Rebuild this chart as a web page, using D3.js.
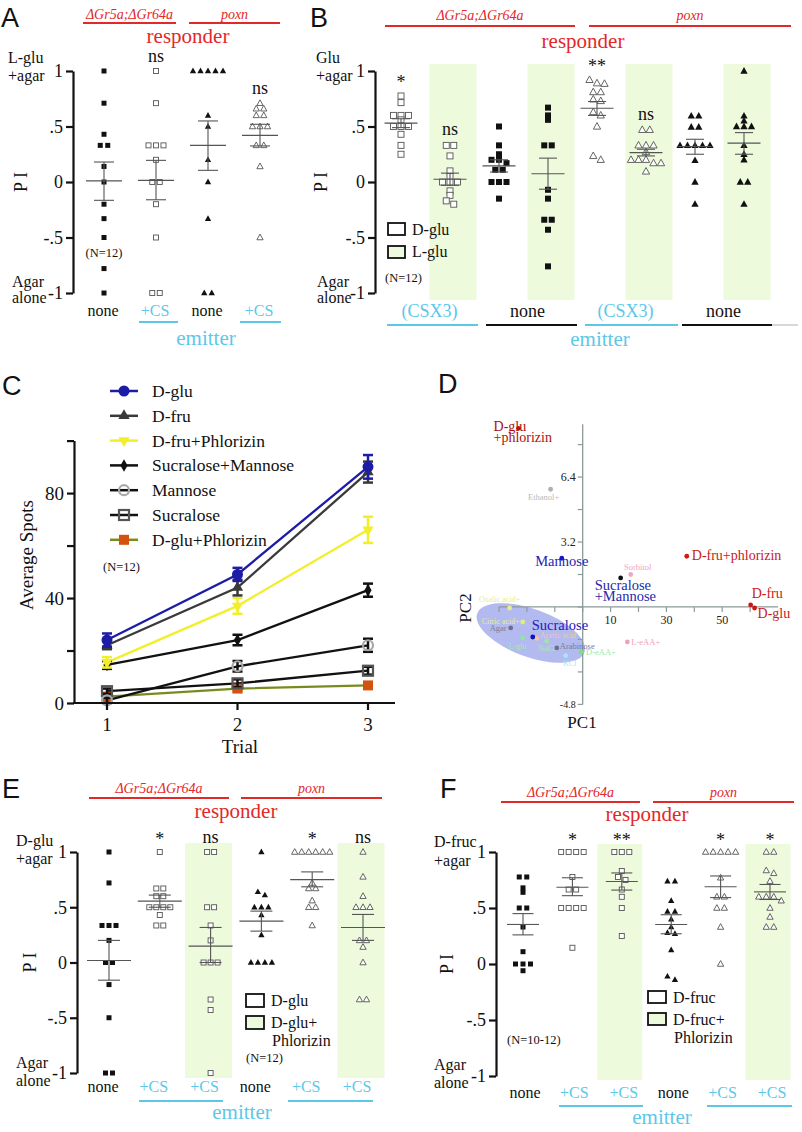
<!DOCTYPE html>
<html>
<head>
<meta charset="utf-8">
<script src="https://cdn.jsdelivr.net/npm/d3@7/dist/d3.min.js"></script>
<style>
html,body{margin:0;padding:0;background:#fff;}
svg{display:block;}
</style>
</head>
<body>
<svg id="fig" width="802" height="1132"></svg>
<script>
// ================= DATA =================
const piTickValues = [1, 0.5, 0, -0.5, -1];
const piTickLabels = ["1", ".5", "0", "-.5", "-1"];
const responderLabel = "responder";
const emitterLabel = "emitter";
const genotypeLabels = ["ΔGr5a;ΔGr64a", "poxn"];
const piAxisLabel = "P I";

// ---- Panel A ----
const aSideTop = ["L-glu", "+agar"];
const aSideBottom = ["Agar", "alone"];
const aCategories = ["none", "+CS", "none", "+CS"];
const aShapes = ["sqF", "sqO", "trF", "trO"];
const aShaded = [false, false, false, false];
const aSig = ["", "ns", "", "ns"];
const aValues = [
  [1.0, 0.71, 0.43, 0.33, 0.33, 0.14, 0, -0.2, -0.33, -0.5, -0.78, -1],
  [1.0, 0.71, 0.33, 0.33, 0.33, 0.2, 0, 0, -0.2, -0.5, -1, -1],
  [1, 1, 1, 1, 1, 0.6, 0.5, 0.2, 0, -0.33, -1, -1],
  [0.71, 0.66, 0.66, 0.6, 0.6, 0.5, 0.5, 0.5, 0.33, 0.33, 0.14, -0.5]
];
const aMean = [0.01, 0.015, 0.33, 0.42];
const aSemHi = [0.18, 0.195, 0.55, 0.52];
const aSemLo = [-0.165, -0.16, 0.105, 0.325];
const aN = "(N=12)";

// ---- Panel B ----
const bSideTop = ["Glu", "+agar"];
const bSideBottom = ["Agar", "alone"];
const bGroups = ["(CSX3)", "none", "(CSX3)", "none"];
const bShapes = ["sqO", "sqO", "sqF", "sqF", "trO", "trO", "trF", "trF"];
const bShaded = [false, true, false, true, false, true, false, true];
const bSig = ["*", "ns", "", "", "**", "ns", "", ""];
const bValues = [
  [0.775, 0.715, 0.6, 0.6, 0.6, 0.56, 0.5, 0.5, 0.5, 0.43, 0.33, 0.25],
  [0.33, 0.33, 0.235, 0.1, 0.05, 0, 0, 0, -0.08, -0.12, -0.17, -0.2],
  [0.5, 0.33, 0.25, 0.2, 0.2, 0.17, 0.11, 0.11, 0, 0, 0, -0.15],
  [0.67, 0.6, 0.56, 0.33, 0.33, -0.07, -0.15, -0.34, -0.34, -0.43, -0.76],
  [0.92, 0.89, 0.885, 0.81, 0.81, 0.745, 0.73, 0.63, 0.6, 0.5, 0.235, 0.2],
  [0.47, 0.47, 0.33, 0.33, 0.33, 0.27, 0.2, 0.2, 0.2, 0.17, 0.17, 0.095],
  [0.595, 0.595, 0.495, 0.495, 0.33, 0.33, 0.33, 0.33, 0.33, 0.195, 0, -0.2],
  [1.0, 0.595, 0.55, 0.5, 0.5, 0.5, 0.33, 0.25, 0.2, 0, 0, -0.2]
];
const bMean = [0.53, 0.025, 0.145, 0.075, 0.665, 0.265, 0.32, 0.35];
const bSemHi = [0.57, 0.08, 0.2, 0.215, 0.725, 0.295, 0.385, 0.445];
const bSemLo = [0.49, -0.03, 0.09, -0.065, 0.6, 0.235, 0.25, 0.25];
const bLegend = ["D-glu", "L-glu"];
const bN = "(N=12)";

// ---- Panel C ----
const cTrials = [1, 2, 3];
const cYTicks = [0, 20, 40, 60, 80, 100];
const cYTickLabels = ["0", "", "40", "", "80", ""];
const cSeriesNames = ["D-glu", "D-fru", "D-fru+Phlorizin", "Sucralose+Mannose", "Mannose", "Sucralose", "D-glu+Phlorizin"];
const cDglu = [24, 49, 90];
const cDgluErr = [2.5, 2.5, 4.5];
const cDfru = [22, 44, 88];
const cDfruErr = [1.5, 3, 4];
const cDfruPhl = [15.5, 37, 66];
const cDfruPhlErr = [2, 3, 5];
const cSucMan = [14.5, 24, 43];
const cSucManErr = [1.5, 2, 2.5];
const cMan = [1, 14, 22];
const cManErr = [1, 2, 2.5];
const cSuc = [4.5, 7.5, 12.3];
const cSucErr = [1, 1.5, 1.5];
const cDgluPhl = [2.4, 5.5, 6.7];
const cDgluPhlErr = [1, 1, 1];
const cN = "(N=12)";

// ---- Panel D (PCA) ----
const dNames = ["D-glu\n+phlorizin", "Ethanol+", "Mannose", "Sucralose\n+Mannose", "Sorbitol", "D-fru+phlorizin",
  "D-fru", "D-glu", "L-eAA+", "D-eAA+", "KCl", "Arabinose", "NaCl", "Acetic acid", "Sucralose", "L-glu",
  "Agar", "Oxalic acid+", "Citric acid+"];
const dPC1 = [-23, -11.5, -7.5, 13.6, 17.2, 37.3, 60.2, 61.6, 16, -0.6, -6.1, -9.3, -12.9, -16.5, -17.9, -21.5, -25.8, -26.2, -21.5];
const dPC2 = [8.8, 5.8, 2.4, 1.43, 1.6, 2.5, 0.1, -0.05, -1.72, -2.22, -2.4, -2.02, -1.67, -1.55, -1.48, -1.53, -1.03, -0.05, -0.74];
const dYTicks = [-4.8, -3.2, -1.6, 0, 1.6, 3.2, 4.8, 6.4, 8.0];
const dYTickLabels = ["-4.8", "", "", "", "", "3.2", "", "6.4", ""];
const dXTicks = [-30, -20, -10, 0, 10, 20, 30, 40, 50, 60];
const dXTickLabels = ["", "", "", "", "10", "", "30", "", "50", ""];
const dEllipseCenter = [-18.6, -1.28];

// ---- Panel E ----
const eSideTop = ["D-glu", "+agar"];
const eSideBottom = ["Agar", "alone"];
const eCategories = ["none", "+CS", "+CS", "none", "+CS", "+CS"];
const eShapes = ["sqF", "sqO", "sqO", "trF", "trO", "trO"];
const eShaded = [false, false, true, false, false, true];
const eSig = ["", "*", "ns", "", "*", "ns"];
const eValues = [
  [1, 0.72, 0.335, 0.335, 0.335, 0.2, 0, 0, -0.2, -0.5, -1, -1],
  [1, 0.67, 0.67, 0.6, 0.6, 0.5, 0.5, 0.5, 0.5, 0.43, 0.335, 0.335],
  [1, 1, 0.5, 0.5, 0.335, 0.2, 0, 0, 0, -0.335, -0.43, -1],
  [1, 0.64, 0.61, 0.5, 0.5, 0.5, 0.43, 0.25, 0, 0, 0, 0],
  [1, 1, 1, 1, 1, 1, 0.72, 0.67, 0.67, 0.56, 0.5, 0.5, 0.335],
  [1, 0.775, 0.6, 0.5, 0.5, 0.5, 0.2, 0.2, 0.14, 0, -0.335, -0.335]
];
const eMean = [0.018, 0.555, 0.148, 0.374, 0.75, 0.317];
const eSemHi = [0.2, 0.61, 0.317, 0.465, 0.82, 0.435];
const eSemLo = [-0.16, 0.5, 0, 0.284, 0.685, 0.2];
const eLegend = ["D-glu", "D-glu+", "Phlorizin"];
const eN = "(N=12)";

// ---- Panel F ----
const fSideTop = ["D-fruc", "+agar"];
const fSideBottom = ["Agar", "alone"];
const fCategories = ["none", "+CS", "+CS", "none", "+CS", "+CS"];
const fShapes = ["sqF", "sqO", "sqO", "trF", "trO", "trO"];
const fShaded = [false, false, true, false, false, true];
const fSig = ["", "*", "**", "", "*", "*"];
const fValues = [
  [0.777, 0.777, 0.68, 0.64, 0.5, 0.5, 0.33, 0.11, 0, 0, 0, -0.06],
  [1, 1, 1, 1, 0.777, 0.665, 0.665, 0.5, 0.5, 0.5, 0.5, 0.145],
  [1, 1, 1, 0.83, 0.777, 0.75, 0.665, 0.6, 0.5, 0.25],
  [0.74, 0.74, 0.565, 0.47, 0.47, 0.4, 0.33, 0.28, 0.27, 0.125, -0.11, -0.14],
  [1, 1, 1, 1, 1, 0.77, 0.6, 0.6, 0.5, 0.5, 0.33, 0],
  [1, 1, 0.835, 0.81, 0.74, 0.6, 0.6, 0.6, 0.565, 0.5, 0.42, 0.33, 0.33]
];
const fMean = [0.353, 0.685, 0.736, 0.353, 0.69, 0.644];
const fSemHi = [0.45, 0.77, 0.813, 0.44, 0.786, 0.71];
const fSemLo = [0.26, 0.61, 0.66, 0.27, 0.593, 0.576];
const fLegend = ["D-fruc", "D-fruc+", "Phlorizin"];
const fN = "(N=10-12)";

// ================= STYLE / HELPERS =================
const svg = d3.select("#fig");
const SERIF = "'Liberation Serif','Times New Roman',serif";
const SANS = "'Liberation Sans',Arial,sans-serif";
const RED = "#e32828";
const CYAN = "#5cc8e8";
const GREEN = "#eefadc";

svg.append("rect").attr("width", 802).attr("height", 1132).attr("fill", "#fff");

function txt(g, x, y, s, o = {}) {
  const t = g.append("text").attr("x", x).attr("y", y)
    .attr("font-family", o.ff || SERIF).attr("font-size", o.fs || 16)
    .attr("fill", o.fill || "#111").attr("text-anchor", o.anchor || "start");
  if (o.italic) t.attr("font-style", "italic");
  if (o.rot) t.attr("transform", `rotate(${o.rot},${x},${y})`);
  const lines = String(s).split("\n");
  if (lines.length === 1) t.text(s);
  else lines.forEach((ln, k) => t.append("tspan").attr("x", x).attr("dy", k === 0 ? 0 : (o.lh || 11)).text(ln));
  return t;
}

function layoutCol(vals, tol) {
  const sorted = vals.map(v => v).sort((a, b) => b - a);
  const clusters = [];
  sorted.forEach(v => {
    const c = clusters[clusters.length - 1];
    if (c && c[0] - v < tol - 1e-9) c.push(v); else clusters.push([v]);
  });
  const out = [];
  clusters.forEach(c => c.forEach((v, k) => out.push({ v, k: k - (c.length - 1) / 2 })));
  return out;
}

function marker(g, shape, cx, cy, s) {
  const filled = shape.endsWith("F");
  let el;
  if (shape.startsWith("sq")) {
    el = g.append("rect").attr("x", cx - s / 2).attr("y", cy - s / 2).attr("width", s).attr("height", s);
  } else {
    const w = s + 1.3, h = w * 0.9;
    el = g.append("path").attr("d", `M${cx},${cy - h * 0.6}L${cx + w / 2},${cy + h * 0.4}L${cx - w / 2},${cy + h * 0.4}Z`);
  }
  if (filled) el.attr("fill", "#111");
  else el.attr("fill", "#fff").attr("stroke", "#555").attr("stroke-width", 0.9);
}

function dotPanel(L, D) {
  const g = svg.append("g");
  const y = d3.scaleLinear().domain([-1, 1]).range([L.yBot, L.yTop]);
  const x = d3.scalePoint().domain(d3.range(D.values.length)).range([L.x0, L.x1]);

  D.shaded.forEach((s, i) => {
    if (!s) return;
    g.append("rect").attr("x", x(i) + L.gDx - L.gW / 2).attr("y", L.gTop)
      .attr("width", L.gW).attr("height", L.gBot - L.gTop).attr("fill", GREEN);
  });

  const ax = g.append("g").attr("transform", `translate(${L.axisX},0)`)
    .call(d3.axisLeft(y).tickValues(piTickValues).tickFormat((d, i) => piTickLabels[i])
      .tickSizeInner(7).tickSizeOuter(0).tickPadding(3));
  ax.attr("font-family", SERIF).attr("font-size", 18);
  ax.select(".domain").attr("stroke-width", 2.2).attr("stroke", "#111");
  ax.selectAll(".tick line").attr("stroke-width", 2.2).attr("stroke", "#111");
  ax.selectAll(".tick text").attr("fill", "#111");

  D.values.forEach((vals, i) => {
    const cx = x(i);
    layoutCol(vals, 0.04).forEach(p => marker(g, D.shapes[i], cx + p.k * L.sp, y(p.v), L.ms));
    const eb = g.append("g").attr("stroke", "#555").attr("stroke-width", 1.1);
    eb.append("line").attr("x1", cx).attr("x2", cx).attr("y1", y(D.hi[i])).attr("y2", y(D.lo[i]));
    [D.hi[i], D.lo[i]].forEach(v => eb.append("line").attr("x1", cx - L.capHalf).attr("x2", cx + L.capHalf)
      .attr("y1", y(v)).attr("y2", y(v)));
    eb.append("line").attr("x1", cx - L.meanHalf).attr("x2", cx + L.meanHalf)
      .attr("y1", y(D.mean[i])).attr("y2", y(D.mean[i]));
    if (D.sig[i]) {
      const isStar = D.sig[i].indexOf("*") >= 0;
      txt(g, cx, y(d3.max(vals)) - L.sigGap + (isStar ? 2 : 0), D.sig[i], { fs: 18, anchor: "middle" });
    }
  });

  // header
  L.hdrLines.forEach((ln, k) => {
    g.append("line").attr("x1", ln[0]).attr("x2", ln[1]).attr("y1", L.hdrLineY).attr("y2", L.hdrLineY)
      .attr("stroke", RED).attr("stroke-width", 2);
    txt(g, (ln[0] + ln[1]) / 2, L.hdrLabY, genotypeLabels[k], { fs: 14, anchor: "middle", fill: RED, italic: true });
  });
  txt(g, L.respX, L.respY, responderLabel, { fs: 21, anchor: "middle", fill: RED });

  // side labels
  D.sideTop.forEach((s, k) => txt(g, L.sideX, L.sideTopY[k], s, { fs: 16 }));
  D.sideBot.forEach((s, k) => txt(g, L.sideX2, L.sideBotY[k], s, { fs: 16 }));
  txt(g, L.piX, (L.yTop + L.yBot) / 2, piAxisLabel, { fs: 18, anchor: "middle", rot: -90 });

  // bottom categories
  if (D.categories) {
    D.categories.forEach((c, i) => txt(g, x(i) + L.catDx, L.catY, c,
      { fs: 16, anchor: "middle", fill: c === "none" ? "#111" : CYAN }));
  }
  if (D.groups) {
    D.groups.forEach((c, k) => txt(g, (x(2 * k) + x(2 * k + 1)) / 2 + L.groupDx, L.catY, c,
      { fs: 18, anchor: "middle", fill: c === "none" ? "#111" : CYAN }));
  }
  L.underlines.forEach(u => g.append("line").attr("x1", u[0]).attr("x2", u[1]).attr("y1", L.ulY).attr("y2", L.ulY)
    .attr("stroke", u[2]).attr("stroke-width", 2));
  txt(g, L.emitX, L.emitY, emitterLabel, { fs: 21, anchor: "middle", fill: CYAN });
  txt(g, L.nPos[0], L.nPos[1], D.n, { fs: 12.5, anchor: L.nPos[2] });

  if (D.legend) {
    const lg = L.legend;
    lg.ys.forEach((yy, k) => g.append("rect").attr("x", lg.x).attr("y", yy).attr("width", lg.w).attr("height", lg.h)
      .attr("fill", k === 0 ? "#fff" : GREEN).attr("stroke", "#111").attr("stroke-width", 1.8));
    D.legend.forEach((s, k) => txt(g, lg.tx + (k === 2 ? 1 : 0), lg.tys[k], s, { fs: 16 }));
  }
  txt(g, L.letterPos[0], L.letterPos[1], D.letter, { ff: SANS, fs: 27 });
}

// ================= PANEL A =================
dotPanel({
  x0: 104, x1: 260, axisX: 73, yTop: 71, yBot: 293, ms: 5, sp: 7.5, capHalf: 10, meanHalf: 18, sigGap: 9,
  hdrLines: [[83, 176], [189, 280]], hdrLineY: 23, hdrLabY: 19, respX: 188, respY: 43,
  sideX: 8, sideTopY: [63, 81], sideX2: 12, sideBotY: [287, 303], piX: 27,
  catY: 316, catDx: -1, underlines: [[139, 178, CYAN], [240, 281, CYAN]], ulY: 322, emitX: 206, emitY: 345,
  nPos: [104, 257, "middle"], letterPos: [1, 27]
}, {
  letter: "A", values: aValues, mean: aMean, hi: aSemHi, lo: aSemLo, shapes: aShapes, shaded: aShaded,
  sig: aSig, sideTop: aSideTop, sideBot: aSideBottom, categories: aCategories, n: aN
});

// ================= PANEL B =================
dotPanel({
  x0: 401, x1: 744, axisX: 375, yTop: 71, yBot: 293, ms: 6, sp: 7.5, capHalf: 9, meanHalf: 16.5, sigGap: 10,
  gW: 47, gTop: 64, gBot: 300, gDx: 3,
  hdrLines: [[385, 575], [589, 791]], hdrLineY: 26, hdrLabY: 20, respX: 583, respY: 48,
  sideX: 316, sideTopY: [63, 81], sideX2: 317, sideBotY: [287, 303], piX: 327,
  catY: 317, groupDx: 4,
  underlines: [[387, 478, CYAN], [486, 577, "#111"], [585, 678, CYAN], [682, 772, "#111"], [772, 798, "#d8d8d8"]],
  ulY: 325, emitX: 600, emitY: 346,
  nPos: [385, 282, "start"], legend: { x: 388, ys: [223, 246], w: 17, h: 12, tx: 412, tys: [235, 257] },
  letterPos: [310, 27]
}, {
  letter: "B", values: bValues, mean: bMean, hi: bSemHi, lo: bSemLo, shapes: bShapes, shaded: bShaded,
  sig: bSig, sideTop: bSideTop, sideBot: bSideBottom, groups: bGroups, n: bN, legend: bLegend
});

// ================= PANEL E =================
dotPanel({
  x0: 109, x1: 363, axisX: 77, yTop: 852, yBot: 1073, ms: 5, sp: 7, capHalf: 11, meanHalf: 22, sigGap: 9,
  gW: 47, gTop: 843, gBot: 1078, gDx: -2,
  hdrLines: [[89, 229], [241, 382]], hdrLineY: 798, hdrLabY: 793, respX: 236, respY: 818,
  sideX: 16, sideTopY: [846, 864], sideX2: 16, sideBotY: [1068, 1086], piX: 36,
  catY: 1092, catDx: -6, underlines: [[139, 223, CYAN], [288, 373, CYAN]], ulY: 1101, emitX: 242, emitY: 1119,
  nPos: [246, 1062, "start"], legend: { x: 246, ys: [994, 1016], w: 18, h: 13, tx: 271, tys: [1006, 1028, 1046] },
  letterPos: [2, 798]
}, {
  letter: "E", values: eValues, mean: eMean, hi: eSemHi, lo: eSemLo, shapes: eShapes, shaded: eShaded,
  sig: eSig, sideTop: eSideTop, sideBot: eSideBottom, categories: eCategories, n: eN, legend: eLegend
});

// ================= PANEL F =================
dotPanel({
  x0: 523, x1: 770, axisX: 496, yTop: 852, yBot: 1076, ms: 5, sp: 7.5, capHalf: 10.5, meanHalf: 16, sigGap: 8,
  gW: 45, gTop: 844, gBot: 1080, gDx: -2,
  hdrLines: [[501, 640], [653, 794]], hdrLineY: 802, hdrLabY: 797, respX: 647, respY: 821,
  sideX: 434, sideTopY: [847, 866], sideX2: 434, sideBotY: [1070, 1088], piX: 453,
  catY: 1098, catDx: 2, underlines: [[559, 643, CYAN], [707, 792, CYAN]], ulY: 1106, emitX: 662, emitY: 1124,
  nPos: [507, 1044, "start"], legend: { x: 648, ys: [991, 1013], w: 18, h: 12, tx: 673, tys: [1003, 1025, 1043] },
  letterPos: [440, 798]
}, {
  letter: "F", values: fValues, mean: fMean, hi: fSemHi, lo: fSemLo, shapes: fShapes, shaded: fShaded,
  sig: fSig, sideTop: fSideTop, sideBot: fSideBottom, categories: fCategories, n: fN, legend: fLegend
});

// ================= PANEL C =================
(function () {
  const g = svg.append("g");
  const x = d3.scalePoint().domain(cTrials).range([107, 368]);
  const y = d3.scaleLinear().domain([0, 100]).range([703, 440.6]);
  const series = [
    { name: cSeriesNames[0], v: cDglu, e: cDgluErr, line: "#1c1ca6", err: "#1c1ca6", m: "circle", fill: "#1c1ca6", stroke: "none" },
    { name: cSeriesNames[1], v: cDfru, e: cDfruErr, line: "#3a3a3a", err: "#3a3a3a", m: "triUp", fill: "#3a3a3a", stroke: "none" },
    { name: cSeriesNames[2], v: cDfruPhl, e: cDfruPhlErr, line: "#f2ef2a", err: "#f2ef2a", m: "triDown", fill: "#f2ef2a", stroke: "none" },
    { name: cSeriesNames[3], v: cSucMan, e: cSucManErr, line: "#111", err: "#111", m: "diamond", fill: "#111", stroke: "none" },
    { name: cSeriesNames[4], v: cMan, e: cManErr, line: "#111", err: "#111", m: "circleO", fill: "none", stroke: "#a8a8a8" },
    { name: cSeriesNames[5], v: cSuc, e: cSucErr, line: "#111", err: "#111", m: "squareO", fill: "none", stroke: "#555" },
    { name: cSeriesNames[6], v: cDgluPhl, e: cDgluPhlErr, line: "#7b8a1c", err: "#d4520e", m: "square", fill: "#d4520e", stroke: "none" }
  ];
  function mk(gg, s, cx, cy) {
    let el;
    if (s.m === "circle") el = gg.append("circle").attr("cx", cx).attr("cy", cy).attr("r", 5.5);
    else if (s.m === "circleO") el = gg.append("circle").attr("cx", cx).attr("cy", cy).attr("r", 5);
    else if (s.m === "triUp") el = gg.append("path").attr("d", d3.symbol(d3.symbolTriangle, 55)()).attr("transform", `translate(${cx},${cy})`);
    else if (s.m === "triDown") el = gg.append("path").attr("d", d3.symbol(d3.symbolTriangle, 55)()).attr("transform", `translate(${cx},${cy}) rotate(180)`);
    else if (s.m === "diamond") el = gg.append("path").attr("d", d3.symbol(d3.symbolDiamond, 45)()).attr("transform", `translate(${cx},${cy})`);
    else el = gg.append("rect").attr("x", cx - 5).attr("y", cy - 5).attr("width", 10).attr("height", 10);
    el.attr("fill", s.fill).attr("stroke", s.stroke).attr("stroke-width", s.stroke === "none" ? 0 : 2.2);
  }
  const line = d3.line().x((d, i) => x(cTrials[i])).y(d => y(d));
  const order = series.slice().reverse();
  order.forEach(s => g.append("path").attr("d", line(s.v)).attr("fill", "none").attr("stroke", s.line).attr("stroke-width", 2.3));
  order.forEach(s => {
    s.v.forEach((v, i) => {
      const cx = x(cTrials[i]);
      const eb = g.append("g").attr("stroke", s.err).attr("stroke-width", 2.5);
      eb.append("line").attr("x1", cx).attr("x2", cx).attr("y1", y(v + s.e[i])).attr("y2", y(v - s.e[i]));
      [v + s.e[i], v - s.e[i]].forEach(w => eb.append("line").attr("x1", cx - 5).attr("x2", cx + 5).attr("y1", y(w)).attr("y2", y(w)));
      mk(g, s, cx, y(v));
    });
  });
  // axes
  const ax = g.append("g").attr("transform", "translate(74,0)")
    .call(d3.axisLeft(y).tickValues(cYTicks).tickFormat((d, i) => cYTickLabels[i]).tickSizeInner(7).tickSizeOuter(0).tickPadding(3));
  ax.attr("font-family", SERIF).attr("font-size", 19);
  ax.select(".domain").attr("stroke-width", 2.2).attr("stroke", "#111");
  ax.selectAll(".tick line").attr("stroke-width", 2.2).attr("stroke", "#111");
  ax.selectAll(".tick text").attr("fill", "#111");
  g.append("line").attr("x1", 73).attr("x2", 395).attr("y1", 703).attr("y2", 703).attr("stroke", "#111").attr("stroke-width", 2.2);
  cTrials.forEach(t => {
    g.append("line").attr("x1", x(t)).attr("x2", x(t)).attr("y1", 703).attr("y2", 710).attr("stroke", "#111").attr("stroke-width", 2.2);
    txt(g, x(t), 731, String(t), { fs: 19, anchor: "middle" });
  });
  txt(g, 240, 753, "Trial", { fs: 19, anchor: "middle" });
  txt(g, 33, 555, "Average Spots", { fs: 19, anchor: "middle", rot: -90 });
  // legend
  series.forEach((s, i) => {
    const ly = 391 + i * 24.8;
    g.append("line").attr("x1", 110).attr("x2", 138).attr("y1", ly).attr("y2", ly).attr("stroke", s.line).attr("stroke-width", 2.5);
    mk(g, s, 124, ly);
    txt(g, 152, ly + 6, s.name, { fs: 17.5 });
  });
  txt(g, 103, 571, cN, { fs: 12.5 });
  txt(g, 2, 395, "C", { ff: SANS, fs: 27 });
})();

// ================= PANEL D =================
(function () {
  const g = svg.append("g");
  const x = d3.scaleLinear().domain([-30, 70]).range([499, 778]);
  const y = d3.scaleLinear().domain([-4.8, 9]).range([704.4, 424.3]);
  const AX = "#8c9a9a";
  // ellipse
  g.append("ellipse").attr("cx", x(dEllipseCenter[0])).attr("cy", y(dEllipseCenter[1]))
    .attr("rx", 57).attr("ry", 24)
    .attr("transform", `rotate(20,${x(dEllipseCenter[0])},${y(dEllipseCenter[1])})`)
    .attr("fill", "#b3baf0");
  // axes
  g.append("line").attr("x1", x(0)).attr("x2", x(0)).attr("y1", y(9)).attr("y2", y(-4.8)).attr("stroke", AX).attr("stroke-width", 1.3);
  g.append("line").attr("x1", x(-30)).attr("x2", x(70)).attr("y1", y(0)).attr("y2", y(0)).attr("stroke", AX).attr("stroke-width", 1.3);
  dYTicks.forEach((t, i) => {
    g.append("line").attr("x1", x(0) - 5).attr("x2", x(0)).attr("y1", y(t)).attr("y2", y(t)).attr("stroke", AX).attr("stroke-width", 1.2);
    if (dYTickLabels[i]) txt(g, x(0) - 7, y(t) + 4, dYTickLabels[i], { fs: t < 0 ? 10 : 12, anchor: "end", fill: "#222" });
  });
  dXTicks.forEach((t, i) => {
    g.append("line").attr("x1", x(t)).attr("x2", x(t)).attr("y1", y(0)).attr("y2", y(0) + 5).attr("stroke", AX).attr("stroke-width", 1.2);
    if (dXTickLabels[i]) txt(g, x(t), y(0) + 17, dXTickLabels[i], { fs: 12, anchor: "middle", fill: "#222" });
  });
  txt(g, 582, 728, "PC1", { fs: 17, anchor: "middle" });
  txt(g, 471, 608, "PC2", { fs: 17, anchor: "middle", rot: -90 });

  // point/label styling (colors, offsets, font sizes)
  const st = {
    "D-glu\n+phlorizin": { c: "#b01414", lc: "#a81010", dx: -25, dy: 3, fs: 14, a: "start" },
    "Ethanol+": { c: "#a9b3b0", lc: "#b4bcbc", dx: -7, dy: 11, fs: 8.5, a: "middle" },
    "Mannose": { c: "#1515cc", lc: "#2424b4", dx: 0, dy: 8, fs: 14.5, a: "middle" },
    "Sucralose\n+Mannose": { c: "#111", lc: "#2828ac", dx: -26, dy: 12, fs: 14.5, a: "start" },
    "Sorbitol": { c: "#f0a8c0", lc: "#f0a4bc", dx: 7, dy: -4, fs: 8.5, a: "middle" },
    "D-fru+phlorizin": { c: "#d41818", lc: "#c81a1a", dx: 5, dy: 4, fs: 14, a: "start" },
    "D-fru": { c: "#cc1414", lc: "#c81a1a", dx: 1, dy: -7, fs: 14, a: "start" },
    "D-glu": { c: "#cc1414", lc: "#c81a1a", dx: 3, dy: 10, fs: 14, a: "start" },
    "L-eAA+": { c: "#f0a0c0", lc: "#f0a0c0", dx: 4, dy: 3, fs: 8.5, a: "start" },
    "D-eAA+": { c: "#7ede86", lc: "#9ee8a4", dx: 5, dy: 3, fs: 8.5, a: "start" },
    "KCl": { c: "#a6e6f6", lc: "#a6e6f6", dx: 4, dy: 10, fs: 8, a: "middle" },
    "Arabinose": { c: "#6e6e8a", lc: "#7a7a94", dx: 3, dy: 1, fs: 8.5, a: "start" },
    "NaCl": { c: "#9ee6a4", lc: "#a8e8ac", dx: 0, dy: 10, fs: 8, a: "middle" },
    "Acetic acid": { c: "#f0c8a0", lc: "#f0c8a0", dx: 3, dy: 0, fs: 8, a: "start" },
    "Sucralose": { c: "#1010c4", lc: "#2020bc", dx: -1, dy: -7, fs: 14.5, a: "start" },
    "L-glu": { c: "#8ee6a0", lc: "#a0e8b0", dx: -5, dy: 11, fs: 8, a: "middle" },
    "Agar": { c: "#6e6e8a", lc: "#7a7a94", dx: -4, dy: 3, fs: 8.5, a: "end" },
    "Oxalic acid+": { c: "#e6ee8c", lc: "#e6ee90", dx: -10, dy: -6, fs: 8, a: "middle" },
    "Citric acid+": { c: "#e0ee80", lc: "#e2ee98", dx: -22, dy: 2, fs: 8, a: "middle" }
  };
  dNames.forEach((n, i) => {
    const s = st[n];
    const px = x(dPC1[i]), py = y(dPC2[i]);
    txt(g, px + s.dx, py + s.dy, n, { fs: s.fs, fill: s.lc, anchor: s.a, lh: 11 });
  });
  dNames.forEach((n, i) => {
    const s = st[n];
    g.append("circle").attr("cx", x(dPC1[i])).attr("cy", y(dPC2[i])).attr("r", 2.4).attr("fill", s.c);
  });
  txt(g, 438, 393, "D", { ff: SANS, fs: 27 });
})();
</script>
</body>
</html>
